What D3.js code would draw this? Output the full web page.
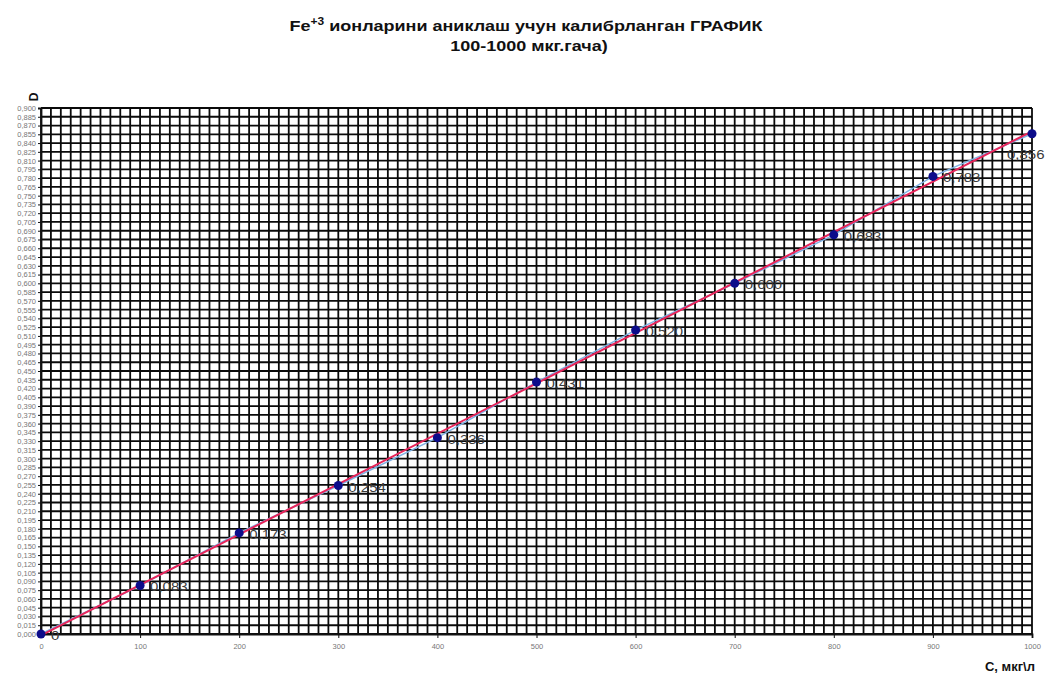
<!DOCTYPE html>
<html>
<head>
<meta charset="utf-8">
<script src="https://cdn.jsdelivr.net/npm/d3@7"></script>
<style>
  body { margin: 0; background: #fff; }
  text { font-family: "Liberation Sans", Arial, sans-serif; }
</style>
</head>
<body>
<script>
const width = 1046,
  height = 675;

// concentration, mkg/l
const conc = [0, 100, 200, 300, 400, 500, 600, 700, 800, 900, 1000];
// optical density D
const dens = [0, 0.083, 0.173, 0.254, 0.336, 0.431, 0.52, 0.6, 0.683, 0.783, 0.856];
const xTicks = [0, 100, 200, 300, 400, 500, 600, 700, 800, 900, 1000];
// y ticks every 0.015 from 0 to 0.900
const yTicks = d3.range(0, 61).map((i) => +(i * 0.015).toFixed(3));

const margin = { top: 108, right: 14, bottom: 41, left: 41 };

const x = d3.scaleLinear().domain([0, 1000]).range([margin.left, width - margin.right]);
const y = d3.scaleLinear().domain([0, 0.9]).range([height - margin.bottom, margin.top]);

const comma = (v) => v.toFixed(3).replace(".", ",");

const svg = d3
  .select("body")
  .append("svg")
  .attr("width", width)
  .attr("height", height);

// title (the original is stretched sideways a bit)
const title = svg.append("text")
  .attr("transform", "translate(526,31) scale(1.2,1)")
  .attr("text-anchor", "middle")
  .attr("font-weight", "bold")
  .attr("font-size", 15)
  .attr("fill", "#111");
title.append("tspan").text("Fe");
title.append("tspan").attr("font-size", 10).attr("dy", -6).text("+3");
title.append("tspan").attr("dy", 6).text(" ионларини аниклаш учун калибрланган ГРАФИК");
svg.append("text")
  .attr("transform", "translate(529,51) scale(1.2,1)")
  .attr("text-anchor", "middle")
  .attr("font-weight", "bold")
  .attr("font-size", 15)
  .attr("fill", "#111")
  .text("100-1000 мкг.гача)");

// grid: vertical lines every 10, horizontal every 0.015
const grid = svg.append("g").attr("stroke", "#0a0a0a").attr("stroke-width", 1.8);
grid.selectAll(".v")
  .data(d3.range(0, 1001, 10))
  .join("line")
  .attr("x1", (d) => x(d))
  .attr("x2", (d) => x(d))
  .attr("y1", y(0.9))
  .attr("y2", y(0));
grid.selectAll(".h")
  .data(yTicks)
  .join("line")
  .attr("x1", x(0))
  .attr("x2", x(1000))
  .attr("y1", (d) => y(d))
  .attr("y2", (d) => y(d));

// axes
const xAxis = svg.append("g")
  .attr("transform", `translate(0,${y(0)})`)
  .call(d3.axisBottom(x).tickValues(xTicks).tickSize(4).tickPadding(6).tickFormat((d) => d));
const yAxis = svg.append("g")
  .attr("transform", `translate(${x(0)},0)`)
  .call(d3.axisLeft(y).tickValues(yTicks).tickSize(3).tickPadding(2).tickFormat(comma));
[xAxis, yAxis].forEach((a) => {
  a.select(".domain").attr("stroke", "#111").attr("stroke-width", 1.8);
  a.selectAll(".tick line").attr("stroke", "#111");
  a.selectAll(".tick text")
    .attr("fill", "#777")
    .attr("font-size", 7.5)
    .attr("font-family", "Liberation Sans, Arial, sans-serif");
});

// axis titles
svg.append("text")
  .attr("transform", `translate(38,97) rotate(-90)`)
  .attr("text-anchor", "middle")
  .attr("font-weight", "bold")
  .attr("font-size", 12)
  .attr("fill", "#111")
  .text("D");
svg.append("text")
  .attr("x", 1035)
  .attr("y", 671)
  .attr("text-anchor", "end")
  .attr("font-weight", "bold")
  .attr("font-size", 13)
  .attr("fill", "#111")
  .text("C, мкг\\л");

const pts = conc.map((c, i) => ({ c, d: dens[i] }));

// measured line
svg.append("path")
  .datum(pts)
  .attr("fill", "none")
  .attr("stroke", "#7fb2e5")
  .attr("stroke-width", 1.5)
  .attr("d", d3.line().x((p) => x(p.c)).y((p) => y(p.d)));

// linear trend line (least squares)
const mx = d3.mean(conc),
  my = d3.mean(dens);
const slope =
  d3.sum(pts, (p) => (p.c - mx) * (p.d - my)) / d3.sum(pts, (p) => (p.c - mx) ** 2);
const icpt = my - slope * mx;
svg.append("line")
  .attr("x1", x(0))
  .attr("y1", y(icpt))
  .attr("x2", x(1000))
  .attr("y2", y(icpt + slope * 1000))
  .attr("stroke", "#e8245a")
  .attr("stroke-width", 2);

// points
svg.selectAll(".pt")
  .data(pts)
  .join("circle")
  .attr("cx", (p) => x(p.c))
  .attr("cy", (p) => y(p.d))
  .attr("r", 4.5)
  .attr("fill", "#0c0c8a");

// value labels
const lblX = (p) => Math.min(x(p.c) + 10, width - 39);
const lblY = (p) => (x(p.c) + 10 > width - 39 ? y(p.d) + 25 : y(p.d) + 6);
svg.selectAll(".lbl")
  .data(pts)
  .join("text")
  .attr("transform", (p) => `translate(${lblX(p)},${lblY(p)}) scale(1.2,1)`)
  .attr("font-size", 12.5)
  .attr("fill", "#3a3a3a")
  .text((p) => (p.d === 0 ? "0" : comma(p.d)));
</script>
</body>
</html>
